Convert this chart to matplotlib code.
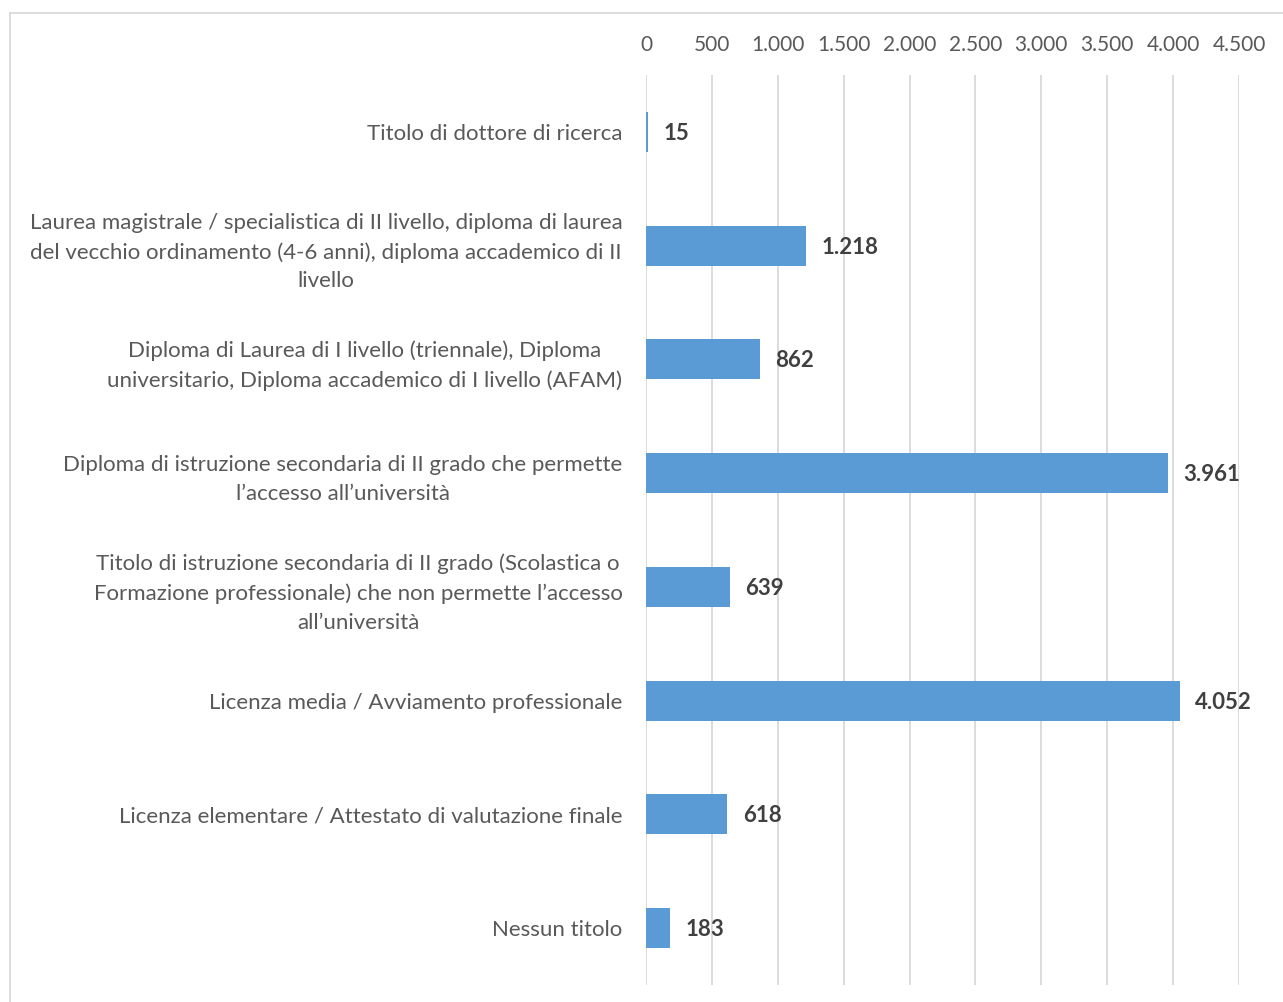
import matplotlib.pyplot as plt
import matplotlib
from matplotlib.lines import Line2D

matplotlib.rcParams['font.family'] = ['Lato', 'DejaVu Sans']

# dati (dall'alto verso il basso)
categorie = [
    'Titolo di dottore di ricerca',
    'Laurea magistrale / specialistica di II livello, diploma di laurea\ndel vecchio ordinamento (4-6 anni), diploma accademico di II\nlivello',
    'Diploma di Laurea di I livello (triennale), Diploma\nuniversitario, Diploma accademico di I livello (AFAM)',
    'Diploma di istruzione secondaria di II grado che permette\nl\u2019accesso all\u2019universit\u00e0',
    'Titolo di istruzione secondaria di II grado (Scolastica o\nFormazione professionale) che non permette l\u2019accesso\nall\u2019universit\u00e0',
    'Licenza media / Avviamento professionale',
    'Licenza elementare / Attestato di valutazione finale',
    'Nessun titolo',
]
valori = [15, 1218, 862, 3961, 639, 4052, 618, 183]
xticks = [0, 500, 1000, 1500, 2000, 2500, 3000, 3500, 4000, 4500]

def fmt_it(v):
    return f'{v:,}'.replace(',', '.')

fig = plt.figure(figsize=(12.83, 10.02), dpi=100)
ax = fig.add_axes([0.5035, 0.017, 0.4622, 0.9081])

y = list(range(len(categorie)))
bars = ax.barh(y, valori, height=0.35, color='#5B9BD5', zorder=3)

ax.set_ylim(len(categorie) - 0.5, -0.5)
ax.set_xlim(0, 4500)
ax.set_xticks(xticks)
ax.set_xticklabels([fmt_it(t) for t in xticks])
ax.xaxis.tick_top()
ax.tick_params(axis='x', length=0, pad=14.5, labelsize=15, labelcolor='#595959')
ax.set_yticks(y)
ax.set_yticklabels(categorie, multialignment='center', linespacing=1.55)
ax.tick_params(axis='y', length=0, pad=17, labelsize=16, labelcolor='#595959')

ax.grid(axis='x', color='#D9D9D9', linewidth=1.3, zorder=0)
for s in ax.spines.values():
    s.set_visible(False)

for bar, v in zip(bars, valori):
    ax.annotate(fmt_it(v), xy=(bar.get_width(), bar.get_y() + bar.get_height() / 2),
                xytext=(11, -1), textcoords='offset points', ha='left', va='center',
                fontsize=16, fontweight='bold', color='#404040')

# cornice del grafico
fig.add_artist(Line2D([10 / 1283, 1.0], [1 - 13 / 1002, 1 - 13 / 1002], color='#D9D9D9', linewidth=1.3))
fig.add_artist(Line2D([10 / 1283, 10 / 1283], [0, 1 - 13 / 1002], color='#D9D9D9', linewidth=1.3))

plt.savefig('out.png', dpi=100)
